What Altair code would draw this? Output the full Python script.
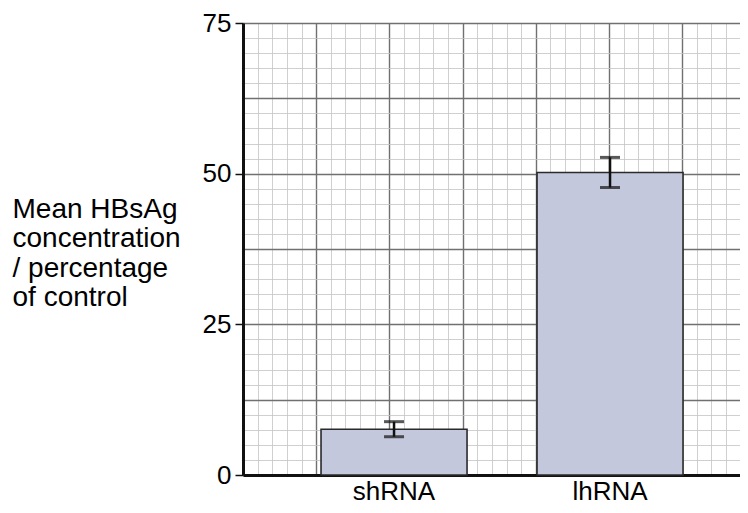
import altair as alt
import pandas as pd

categories = ["shRNA", "lhRNA"]
means = [7.6, 50.2]
errors = [1.25, 2.5]

y_ticks = [0, 25, 50, 75]
y_title = ["Mean HBsAg", "concentration", "/ percentage", "of control"]

# graph-paper grid (major / minor)
x_cells = 6.79
major_x = [0, 1, 2, 3, 4, 5, 6]
minor_x = [round(i * 0.2, 2) for i in range(34)]
major_y = [0, 12.5, 25, 37.5, 50, 62.5, 75]
minor_y = [round(i * 2.5, 2) for i in range(31)]

df = pd.DataFrame({"cat": categories, "mean": means, "err": errors})
df["lo"] = df["mean"] - df["err"]
df["hi"] = df["mean"] + df["err"]

FONT = "Liberation Sans"
W, H = 497, 452

yscale = alt.Scale(domain=[0, 75], nice=False, zero=True)
gxscale = alt.Scale(domain=[0, x_cells], nice=False, zero=True)

dummy = alt.Data(values=[{"d": 0}])


def grid_layer(xv, yv, color, width):
    return alt.Chart(dummy).mark_point(opacity=0).encode(
        x=alt.X(datum=0, type="quantitative", scale=gxscale,
                axis=alt.Axis(orient="top", values=xv, grid=True, gridColor=color,
                              gridWidth=width, gridOpacity=1, labels=False, ticks=False,
                              domain=False, title=None)),
        y=alt.Y(datum=0, type="quantitative", scale=yscale,
                axis=alt.Axis(orient="right", values=yv, grid=True, gridColor=color,
                              gridWidth=width, gridOpacity=1, labels=False, ticks=False,
                              domain=False, title=None)),
    )


minor = grid_layer(minor_x, minor_y, "#c4c4c4", 0.8)
major = grid_layer(major_x, major_y, "#707070", 1.4)
grid = alt.layer(minor, major).resolve_axis(x="independent", y="independent")

xband = alt.Scale(paddingInner=0.324, paddingOuter=0.3125, align=0.578)

bars = alt.Chart(df).mark_bar(color="#c4c8dc", stroke="#2a2a2a", strokeWidth=1.6).encode(
    x=alt.X("cat:N", sort=categories, scale=xband,
            axis=alt.Axis(orient="bottom", title=None, labelAngle=0, labelFont=FONT,
                          labelFontSize=26, labelColor="#000", labelPadding=24,
                          labelBaseline="alphabetic", ticks=False,
                          domain=True, domainColor="#111", domainWidth=3, grid=False)),
    y=alt.Y("mean:Q", scale=yscale,
            axis=alt.Axis(orient="left", values=y_ticks, grid=False, domain=True,
                          domainColor="#111", domainWidth=3, ticks=True, tickSize=8,
                          tickColor="#111", tickWidth=1.5, labelFont=FONT, labelFontSize=26,
                          labelColor="#000", labelPadding=4,
                          title=y_title, titleAngle=0, titleAlign="left",
                          titleBaseline="top", titleX=-231, titleY=172,
                          titleFont=FONT, titleFontSize=28, titleFontWeight="normal",
                          titleColor="#000", titleLineHeight=29.5)),
)

rules = alt.Chart(df).mark_rule(color="#111", strokeWidth=2.5).encode(
    x=alt.X("cat:N", sort=categories), y="lo:Q", y2="hi:Q")
caps_lo = alt.Chart(df).mark_tick(color="#111", thickness=3, size=20, orient="horizontal").encode(
    x=alt.X("cat:N", sort=categories), y="lo:Q")
caps_hi = alt.Chart(df).mark_tick(color="#111", thickness=3, size=20, orient="horizontal").encode(
    x=alt.X("cat:N", sort=categories), y="hi:Q")

main = alt.layer(bars, rules, caps_lo, caps_hi)

chart = (
    alt.layer(grid, main)
    .resolve_scale(x="independent")
    .resolve_axis(x="independent", y="independent")
    .properties(width=W, height=H,
                autosize=alt.AutoSizeParams(type="none"),
                padding={"left": 235, "top": 15, "right": 0, "bottom": 30},
                background="white")
    .configure_view(stroke=None)
)

chart.save("out.html", embed_options={"renderer": "svg", "actions": False})
